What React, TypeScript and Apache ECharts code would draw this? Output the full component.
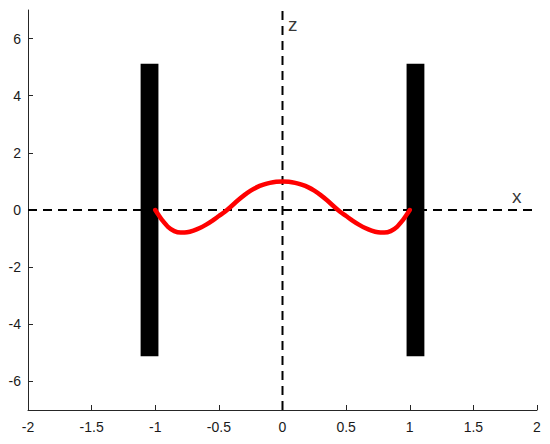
import React, { useEffect, useRef } from "react";
import * as echarts from "echarts";

const xTicks = [-2, -1.5, -1, -0.5, 0, 0.5, 1, 1.5, 2];
const zTicks = [-6, -4, -2, 0, 2, 4, 6];

const curveX = [
  -1, -0.975, -0.95, -0.9, -0.85, -0.8, -0.75, -0.7, -0.65, -0.6, -0.55, -0.5, -0.45, -0.4, -0.35, -0.3, -0.25, -0.2, -0.15, -0.1, -0.05,
  0, 0.05, 0.1, 0.15, 0.2, 0.25, 0.3, 0.35, 0.4, 0.45, 0.5, 0.55, 0.6, 0.65, 0.7, 0.75, 0.8, 0.85, 0.9, 0.95, 0.975, 1,
];
const curveZ = [
  0, -0.17, -0.33, -0.59, -0.74, -0.79, -0.78, -0.72, -0.63, -0.51, -0.37, -0.21, -0.05, 0.14, 0.34, 0.52, 0.675, 0.8, 0.885, 0.95, 0.99,
  1.0, 0.99, 0.95, 0.885, 0.8, 0.675, 0.52, 0.34, 0.14, -0.05, -0.21, -0.37, -0.51, -0.63, -0.72, -0.78, -0.79, -0.74, -0.59, -0.33, -0.17, 0,
];

// walls: [xLeft, xRight, zBottom, zTop]
const walls = [
  [-1.115, -0.975, -5.12, 5.12],
  [0.975, 1.115, -5.12, 5.12],
];

const axisNames = [
  { text: "z", x: 0.08, z: 6.48 },
  { text: "x", x: 1.84, z: 0.46 },
];

export default function App() {
  const ref = useRef<HTMLDivElement>(null);
  useEffect(() => {
    if (!ref.current) return;
    const chart = echarts.init(ref.current, null, { renderer: "svg" });
    const axisColor = "#262626";
    const font = "'Liberation Sans', Arial, Helvetica, sans-serif";
    chart.setOption({
      animation: false,
      grid: { left: 28, right: 13, top: 10, bottom: 34 },
      xAxis: {
        type: "value",
        min: -2,
        max: 2,
        interval: 0.5,
        axisLine: { show: true, onZero: false, lineStyle: { color: axisColor, width: 1 } },
        axisTick: { show: true, inside: true, length: 5, lineStyle: { color: axisColor } },
        axisLabel: {
          color: "#1a1a1a",
          fontSize: 14,
          fontFamily: font,
          margin: 10,
          showMinLabel: true,
          showMaxLabel: true,
          customValues: xTicks,
        },
        splitLine: { show: false },
      },
      yAxis: {
        type: "value",
        min: -7,
        max: 7,
        interval: 1,
        axisLine: { show: true, onZero: false, lineStyle: { color: axisColor, width: 1 } },
        axisTick: { show: true, inside: true, length: 5, lineStyle: { color: axisColor }, customValues: zTicks },
        axisLabel: {
          color: "#1a1a1a",
          fontSize: 14,
          fontFamily: font,
          margin: 7,
          customValues: zTicks,
          formatter: (v: number) => (zTicks.includes(v) ? String(v) : ""),
        },
        splitLine: { show: false },
      },
      series: [
        {
          type: "custom",
          z: 1,
          renderItem: (params: any, api: any) => {
            const p0 = api.coord([api.value(0), api.value(3)]);
            const p1 = api.coord([api.value(1), api.value(2)]);
            return {
              type: "rect",
              shape: { x: p0[0], y: p0[1], width: p1[0] - p0[0], height: p1[1] - p0[1] },
              style: { fill: "#000" },
            };
          },
          data: walls,
        },
        {
          type: "line",
          z: 2,
          symbol: "none",
          data: [[-2, 0], [2, 0]],
          lineStyle: { color: "#000", width: 2, type: [9, 6] },
        },
        {
          type: "line",
          z: 2,
          symbol: "none",
          data: [[0, -7], [0, 7]],
          lineStyle: { color: "#000", width: 2, type: [9, 6] },
        },
        {
          type: "line",
          z: 3,
          symbol: "none",
          smooth: 0.3,
          data: curveX.map((x, i) => [x, curveZ[i]]),
          lineStyle: { color: "#ff0000", width: 4.5, cap: "round", join: "round" },
        },
        {
          type: "scatter",
          z: 4,
          symbolSize: 0,
          data: axisNames.map((a) => ({ value: [a.x, a.z], name: a.text })),
          label: {
            show: true,
            position: "inside",
            formatter: (p: any) => p.name,
            color: "#000",
            fontSize: 19,
            fontFamily: font,
          },
        },
      ],
    });
    return () => chart.dispose();
  }, []);
  return <div ref={ref} style={{ width: 550, height: 444, position: "absolute", left: 0, top: 0 }} />;
}
